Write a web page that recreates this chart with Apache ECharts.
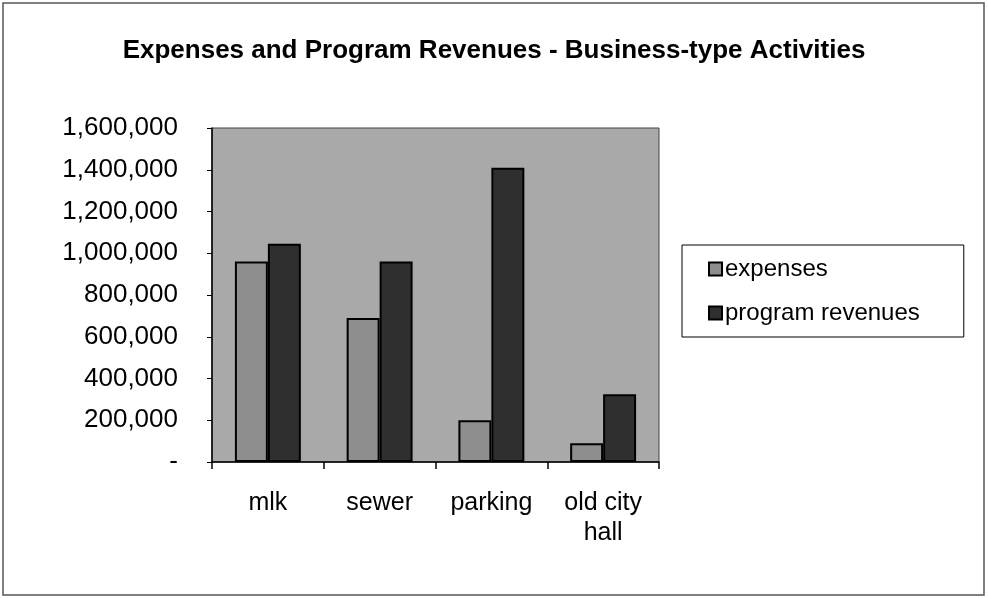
<!DOCTYPE html>
<html>
<head>
<meta charset="utf-8">
<script src="https://cdn.jsdelivr.net/npm/echarts@6/dist/echarts.min.js"></script>
<style>
  html, body { margin: 0; padding: 0; background: #fff; }
  #chart { width: 988px; height: 598px; }
</style>
</head>
<body>
<div id="chart"></div>
<script>
  const titleText = "Expenses and Program Revenues - Business-type Activities";
  const categories = ["mlk", "sewer", "parking", "old city\nhall"];
  const seriesNames = ["expenses", "program revenues"];
  const expenses = [960000, 690000, 200000, 90000];
  const programRevenues = [1045000, 960000, 1410000, 325000];

  const FONT = "'Liberation Sans', Arial, sans-serif";

  function fmtNum(v) {
    if (v === 0) return "-";
    return v.toLocaleString("en-US");
  }

  const chart = echarts.init(document.getElementById("chart"), null, { renderer: "canvas" });

  chart.setOption({
    backgroundColor: "#fff",
    animation: false,
    title: {
      text: titleText,
      left: "center",
      top: 33,
      textStyle: { fontFamily: FONT, fontSize: 26, fontWeight: "bold", color: "#000" },
    },
    graphic: [
      {
        type: "rect",
        shape: { x: 3, y: 3, width: 981, height: 592 },
        style: { fill: "none", stroke: "#555", lineWidth: 1.5 },
        silent: true,
      },
    ],
    legend: {
      orient: "vertical",
      left: 682,
      top: 245,
      padding: [12, 44, 12, 26],
      itemGap: 20,
      itemWidth: 13,
      itemHeight: 13,
      borderColor: "#000",
      borderWidth: 1,
      backgroundColor: "#fff",
      textStyle: { fontFamily: FONT, fontSize: 24, color: "#000", padding: [0, 0, 0, -2] },
      data: seriesNames.map((n) => ({ name: n, icon: "rect" })),
    },
    grid: {
      left: 212,
      right: 329,
      top: 128,
      bottom: 136,
      show: true,
      backgroundColor: "#a9a9a9",
      borderColor: "#444",
      borderWidth: 1,
    },
    xAxis: {
      type: "category",
      data: categories,
      axisLine: { lineStyle: { color: "#000", width: 1.5 } },
      axisTick: { show: true, length: 7, lineStyle: { color: "#000", width: 1.5 } },
      axisLabel: {
        fontFamily: FONT,
        fontSize: 25,
        color: "#000",
        margin: 26,
        lineHeight: 30,
      },
    },
    yAxis: {
      type: "value",
      min: 0,
      max: 1600000,
      interval: 200000,
      splitLine: { show: false },
      axisLine: { show: true, lineStyle: { color: "#000", width: 1.5 } },
      axisTick: { show: true, length: 5, lineStyle: { color: "#000" } },
      axisLabel: {
        fontFamily: FONT,
        fontSize: 26,
        color: "#000",
        margin: 34,
        formatter: fmtNum,
      },
    },
    series: [
      {
        name: seriesNames[0],
        type: "bar",
        data: expenses,
        barGap: "0%",
        barCategoryGap: "41%",
        itemStyle: { color: "#8e8e8e", borderColor: "#000", borderWidth: 2 },
      },
      {
        name: seriesNames[1],
        type: "bar",
        data: programRevenues,
        itemStyle: { color: "#2f2f2f", borderColor: "#000", borderWidth: 2 },
      },
    ],
  });

  window.addEventListener("resize", () => chart.resize());
</script>
</body>
</html>
